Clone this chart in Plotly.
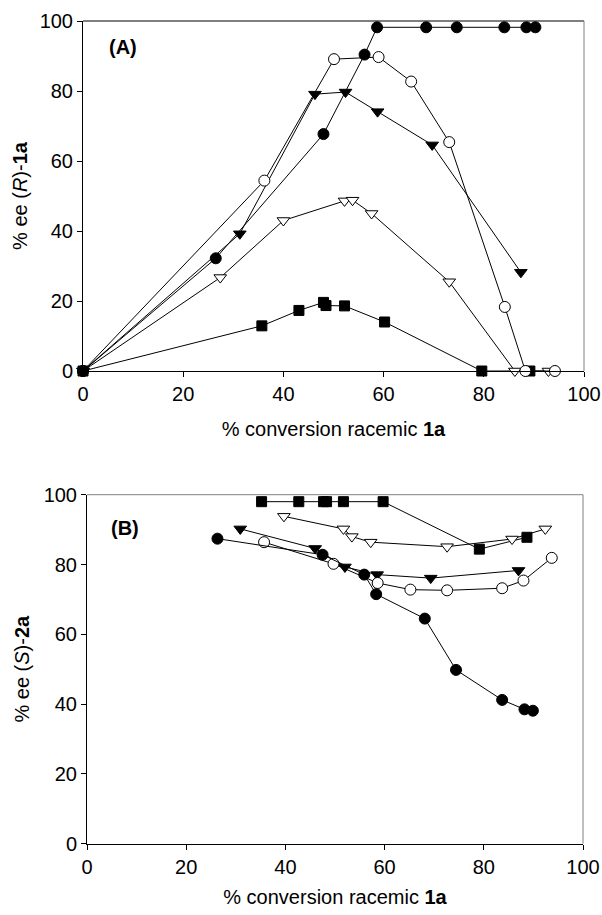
import plotly.graph_objects as go

# ---------- Panel A: % ee (R)-1a vs conversion ----------
a_fc_x = [0, 26.5, 48.0, 56.2, 58.7, 68.5, 74.6, 84.1, 88.5, 90.3]
a_fc_y = [0, 32.2, 67.7, 90.4, 98.2, 98.2, 98.2, 98.2, 98.2, 98.2]

a_oc_x = [0, 36.2, 50.1, 59.0, 65.5, 73.1, 84.2, 88.3, 94.2]
a_oc_y = [0, 54.4, 89.1, 89.7, 82.7, 65.4, 18.3, 0, 0]

a_ft_x = [0, 31.3, 46.3, 52.4, 58.8, 69.7, 87.4]
a_ft_y = [0, 39.2, 79.1, 79.7, 74.1, 64.6, 28.2]

a_ot_x = [0, 27.4, 40.0, 52.2, 53.8, 57.6, 73.1, 86.2, 92.9]
a_ot_y = [0, 26.7, 43.0, 48.6, 48.8, 45.0, 25.5, 0, 0]

a_sq_x = [0, 35.7, 43.1, 48.0, 48.5, 52.2, 60.2, 79.6, 89.2]
a_sq_y = [0, 12.9, 17.3, 19.6, 18.7, 18.6, 14.0, 0, 0]

# ---------- Panel B: % ee (S)-2a vs conversion ----------
b_fc_x = [26.3, 47.5, 55.9, 58.3, 68.1, 74.4, 83.7, 88.2, 89.9]
b_fc_y = [87.4, 82.8, 77.1, 71.5, 64.5, 49.8, 41.2, 38.5, 38.1]

b_oc_x = [35.7, 49.7, 58.6, 65.2, 72.6, 83.7, 88.0, 93.7]
b_oc_y = [86.4, 80.2, 74.7, 72.8, 72.6, 73.2, 75.4, 81.9]

b_ft_x = [30.9, 46.0, 52.0, 58.5, 69.3, 87.0]
b_ft_y = [90.2, 84.6, 79.3, 77.1, 76.1, 78.3]

b_ot_x = [39.7, 51.7, 53.4, 57.2, 72.6, 85.7, 92.4]
b_ot_y = [93.8, 90.2, 88.0, 86.4, 85.1, 87.3, 90.2]

b_sq_x = [35.2, 42.7, 47.7, 48.3, 51.7, 59.7, 79.1, 88.7]
b_sq_y = [98.0, 98.0, 98.0, 98.0, 98.0, 98.0, 84.4, 87.8]

x_ticks = [0, 20, 40, 60, 80, 100]
y_ticks = [0, 20, 40, 60, 80, 100]

FONT = "Liberation Sans, Arial, sans-serif"
FS = 20

styles = [
    dict(symbol="square", size=10, color="black", line=dict(color="black", width=1)),
    dict(symbol="triangle-down", size=11, color="white", line=dict(color="black", width=1)),
    dict(symbol="triangle-down", size=11, color="black", line=dict(color="black", width=1)),
    dict(symbol="circle", size=11, color="white", line=dict(color="black", width=1)),
    dict(symbol="circle", size=11, color="black", line=dict(color="black", width=1)),
]

fig = go.Figure()

panel_a = [(a_sq_x, a_sq_y), (a_ot_x, a_ot_y), (a_ft_x, a_ft_y), (a_oc_x, a_oc_y), (a_fc_x, a_fc_y)]
panel_b = [(b_sq_x, b_sq_y), (b_ot_x, b_ot_y), (b_ft_x, b_ft_y), (b_oc_x, b_oc_y), (b_fc_x, b_fc_y)]

for (xs, ys), st in zip(panel_a, styles):
    fig.add_trace(go.Scatter(x=xs, y=ys, mode="lines+markers", xaxis="x", yaxis="y",
                             line=dict(color="black", width=1), marker=st,
                             cliponaxis=False, showlegend=False))
for (xs, ys), st in zip(panel_b, styles):
    fig.add_trace(go.Scatter(x=xs, y=ys, mode="lines+markers", xaxis="x2", yaxis="y2",
                             line=dict(color="black", width=1), marker=st,
                             cliponaxis=False, showlegend=False))

W, H = 602, 915
ax_common = dict(range=[0, 100], tickvals=x_ticks, ticks="outside", ticklen=5, tickwidth=1,
                 tickcolor="black", showline=True, linecolor="black", linewidth=1,
                 showgrid=False, zeroline=False, automargin=False,
                 tickfont=dict(size=FS, color="black", family=FONT))
ay_common = dict(range=[0, 100], tickvals=y_ticks, ticks="outside", ticklen=5, tickwidth=1,
                 tickcolor="black", showline=True, linecolor="black", linewidth=1,
                 showgrid=False, zeroline=False, automargin=False,
                 tickfont=dict(size=FS, color="black", family=FONT))

a_x0, a_x1, a_yt, a_yb = 83, 584, 21, 371
b_x0, b_x1, b_yt, b_yb = 87, 583, 494.7, 843.7

fig.update_layout(
    width=W, height=H,
    margin=dict(l=0, r=0, t=0, b=0),
    paper_bgcolor="white", plot_bgcolor="white",
    font=dict(family=FONT, color="black", size=FS),
    xaxis=dict(ax_common, domain=[a_x0 / W, a_x1 / W], anchor="y",
               title=dict(text="% conversion racemic <b>1a</b>", font=dict(size=FS), standoff=17)),
    yaxis=dict(ay_common, domain=[1 - a_yb / H, 1 - a_yt / H], anchor="x",
               title=dict(text="% ee (<i>R</i>)-<b>1a</b>", font=dict(size=FS), standoff=6)),
    xaxis2=dict(ax_common, domain=[b_x0 / W, b_x1 / W], anchor="y2",
                title=dict(text="% conversion racemic <b>1a</b>", font=dict(size=FS), standoff=13)),
    yaxis2=dict(ay_common, domain=[1 - b_yb / H, 1 - b_yt / H], anchor="x2",
                title=dict(text="% ee (<i>S</i>)-<b>2a</b>", font=dict(size=FS), standoff=8)),
    annotations=[
        dict(text="<b>(A)</b>", xref="x domain", yref="y domain", x=0.048, y=0.925,
             xanchor="left", yanchor="middle", showarrow=False, font=dict(size=FS)),
        dict(text="<b>(B)</b>", xref="x2 domain", yref="y2 domain", x=0.045, y=0.905,
             xanchor="left", yanchor="middle", showarrow=False, font=dict(size=FS)),
    ],
    shapes=[
        dict(type="line", xref="x domain", yref="y domain", x0=0, x1=1, y0=1, y1=1,
             line=dict(color="black", width=1)),
        dict(type="line", xref="x domain", yref="y domain", x0=1, x1=1, y0=0, y1=1,
             line=dict(color="#808080", width=1)),
        dict(type="line", xref="x2 domain", yref="y2 domain", x0=0, x1=1, y0=1, y1=1,
             line=dict(color="#808080", width=1)),
        dict(type="line", xref="x2 domain", yref="y2 domain", x0=1, x1=1, y0=0, y1=1,
             line=dict(color="#808080", width=1)),
    ],
)

fig.write_html(
    "out.html",
    config={"displayModeBar": False},
    post_script="document.body.style.margin='0';document.body.style.overflow='hidden';",
)
